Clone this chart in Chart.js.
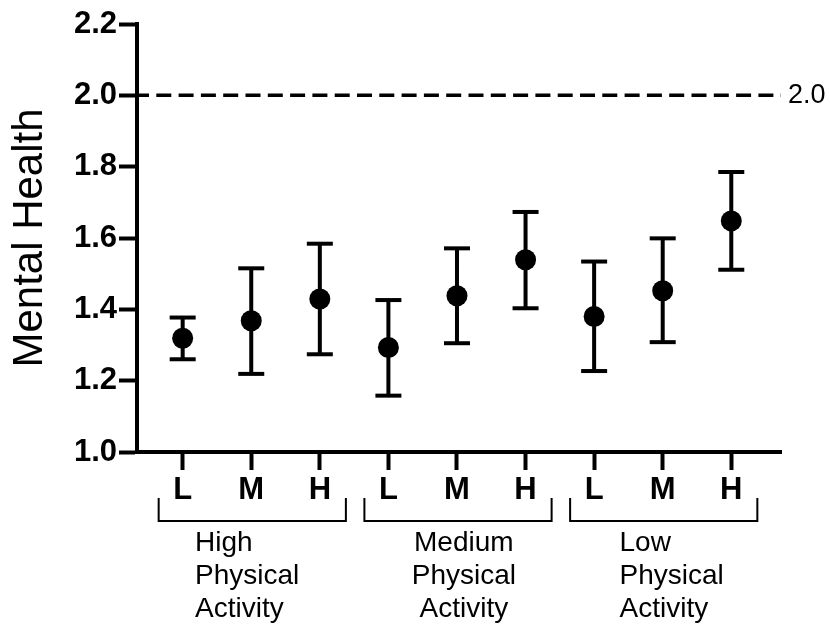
<!DOCTYPE html>
<html>
<head>
<meta charset="utf-8">
<script src="https://cdn.jsdelivr.net/npm/chart.js@4.4.1/dist/chart.umd.min.js"></script>
<style>
html,body{margin:0;padding:0;background:#fff;}
#wrap{width:830px;height:628px;}
</style>
</head>
<body>
<div id="wrap"><canvas id="c" width="830" height="628"></canvas></div>
<script>
// ---- data ----
const xLabels = ['L','M','H','L','M','H','L','M','H'];
const means   = [1.319, 1.368, 1.429, 1.293, 1.438, 1.539, 1.380, 1.452, 1.648];
const upper   = [1.377, 1.515, 1.584, 1.426, 1.571, 1.673, 1.534, 1.599, 1.785];
const lower   = [1.260, 1.219, 1.274, 1.158, 1.305, 1.403, 1.227, 1.308, 1.511];
const yTicks  = [1.0, 1.2, 1.4, 1.6, 1.8, 2.0, 2.2];
const refValue = 2.0;
const groupNames = [['High','Physical','Activity'], ['Medium','Physical','Activity'], ['Low','Physical','Activity']];
const groupSpans = [[0,2],[3,5],[6,8]];

// ---- build ----
const F = "'Liberation Sans', Arial, Helvetica, sans-serif";
const xMin = -0.666, xMax = 8.725;
const idx = xLabels.map((_, i) => i);
const dots = idx.map(i => ({x: i, y: means[i]}));
const caps = idx.flatMap(i => [{x: i, y: upper[i]}, {x: i, y: lower[i]}]);
const stems = idx.flatMap(i => [{x: i, y: lower[i]}, {x: i, y: upper[i]}, {x: i, y: null}]);

const groupPlugin = {
  id: 'groups',
  afterDraw(chart) {
    const {ctx, chartArea} = chart;
    const x = chart.scales.x;
    const base = chartArea.bottom;
    ctx.save();
    ctx.strokeStyle = '#000';
    ctx.lineWidth = 2;
    groupSpans.forEach(([a, b]) => {
      const x1 = x.getPixelForValue(a - 0.35);
      const x2 = x.getPixelForValue(b + 0.38);
      ctx.beginPath();
      ctx.moveTo(x1, base + 46);
      ctx.lineTo(x1, base + 69);
      ctx.lineTo(x2, base + 69);
      ctx.lineTo(x2, base + 46);
      ctx.stroke();
    });
    ctx.fillStyle = '#000';
    ctx.font = '28px ' + F;
    ctx.textBaseline = 'alphabetic';
    const anchors = [[0.18, 'left'], [4.10, 'center'], [6.37, 'left']];
    groupNames.forEach((lines, g) => {
      const [v, align] = anchors[g];
      ctx.textAlign = align;
      const px = x.getPixelForValue(v);
      lines.forEach((t, k) => ctx.fillText(t, px, base + 99 + k * 33));
    });
    ctx.restore();
  }
};

new Chart(document.getElementById('c'), {
  type: 'scatter',
  data: {
    datasets: [
      {type: 'line', data: [{x: xMin, y: refValue}, {x: xMax, y: refValue}], borderColor: '#000',
       borderWidth: 3.5, borderDash: [15, 7.3], borderDashOffset: 3, pointRadius: 0, order: 4},
      {type: 'line', data: stems, borderColor: '#000', borderWidth: 4, pointRadius: 0,
       spanGaps: false, order: 3},
      {data: caps, pointStyle: 'line', pointRadius: 13, pointBorderWidth: 4,
       borderColor: '#000', backgroundColor: '#000', order: 2},
      {data: dots, pointRadius: 10.5, backgroundColor: '#000', borderColor: '#000', borderWidth: 0, order: 1}
    ]
  },
  options: {
    responsive: false,
    animation: false,
    devicePixelRatio: 1,
    layout: {padding: {top: 24, left: 0, right: 0, bottom: 0}},
    plugins: {legend: {display: false}, tooltip: {enabled: false}},
    scales: {
      x: {
        type: 'linear', position: 'bottom', min: xMin, max: xMax,
        afterBuildTicks: s => { s.ticks = idx.map(v => ({value: v})); },
        afterFit: s => { s.height = 176; },
        ticks: {
          callback: v => xLabels[Math.round(v)],
          font: {family: F, size: 31, weight: 'bold'}, color: '#000', padding: 2,
          maxRotation: 0, autoSkip: false
        },
        grid: {display: true, drawOnChartArea: false, drawTicks: true, tickLength: 18,
               tickWidth: 4, tickColor: '#000', color: '#000'},
        border: {display: true, color: '#000', width: 4}
      },
      y: {
        type: 'linear', position: 'left', min: 1.0, max: 2.2,
        afterBuildTicks: s => { s.ticks = yTicks.map(v => ({value: v})); },
        afterFit: s => { s.width = 137; },
        ticks: {
          callback: v => v.toFixed(1),
          font: {family: F, size: 31, weight: 'bold'}, color: '#000', padding: 2
        },
        grid: {display: true, drawOnChartArea: false, drawTicks: true, tickLength: 18,
               tickWidth: 4, tickColor: '#000', color: '#000'},
        border: {display: true, color: '#000', width: 4},
        title: {display: true, text: 'Mental Health', font: {family: F, size: 42},
                color: '#000', padding: {top: 5, bottom: 0}}
      },
      y2: {
        type: 'linear', position: 'right', min: 1.0, max: 2.2,
        afterBuildTicks: s => { s.ticks = [{value: refValue}]; },
        afterFit: s => { s.width = 49; },
        ticks: {callback: v => v.toFixed(1), font: {family: F, size: 27}, color: '#000', padding: 7},
        grid: {display: false, drawTicks: false},
        border: {display: false}
      }
    }
  },
  plugins: [groupPlugin]
});
</script>
</body>
</html>
